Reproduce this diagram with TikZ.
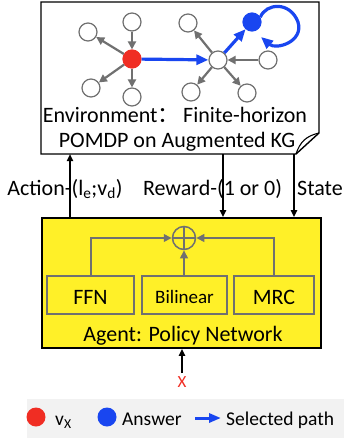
\documentclass[tikz,border=0pt]{standalone}
\usepackage{fontspec}
\setmainfont{Carlito}
\newfontfamily\cjk{Noto Sans CJK SC}
\usetikzlibrary{arrows.meta}
\definecolor{kggray}{RGB}{112,112,112}
\definecolor{kgblue}{RGB}{25,70,240}
\definecolor{kgred}{RGB}{240,45,35}
\definecolor{agyellow}{RGB}{255,240,40}
\definecolor{leggray}{RGB}{242,242,242}
\begin{document}
\begin{tikzpicture}[x=1pt,y=-1pt,
  kgnode/.style={circle,draw=kggray,line width=1.2pt,fill=white,minimum size=18pt,inner sep=0pt},
  kgedge/.style={draw=kggray,line width=2.2pt,-{Triangle[length=8pt,width=8pt]}},
  selpath/.style={draw=kgblue,line width=3.2pt,-{Triangle[length=12pt,width=10pt]}},
  flow/.style={draw=black,line width=1.8pt,-{Triangle[length=7pt,width=6pt]}},
  innerarrow/.style={draw=kggray,line width=2pt,-{Triangle[length=8pt,width=7.5pt]}},
  subbox/.style={draw=kggray,line width=1.5pt,fill=agyellow,minimum height=38pt,inner sep=0pt},
  big/.style={font=\fontsize{22}{25}\selectfont,inner sep=0pt},
  legtext/.style={font=\fontsize{19.5}{22}\selectfont,inner sep=0pt,anchor=base west}
]
\useasboundingbox (0,0) rectangle (344,439);

% environment box with folded corner
\draw[line width=1.4pt,fill=white] (41,2) -- (319,2) -- (319,133) -- (296,154) -- (41,154) -- cycle;
\draw[line width=1.1pt] (319,133) .. controls (306,136) and (300,142) .. (296,154);
\coordinate (envb) at (0,154);

% knowledge graph
\node[kgnode,fill=kgred,draw=kgred] (r) at (132,59) {};
\node[kgnode] (o1) at (88,32) {};
\node[kgnode] (o2) at (132,22) {};
\node[kgnode] (o3) at (91,88) {};
\node[kgnode] (o4) at (132,97) {};
\node[kgnode] (m) at (218,60) {};
\node[kgnode] (p1) at (188,23) {};
\node[kgnode] (p2) at (268,60) {};
\node[kgnode] (p3) at (191,92) {};
\node[kgnode] (p4) at (247,93) {};
\node[kgnode,fill=kgblue,draw=kgblue] (b) at (252,22) {};

\draw[kgedge] (r) -- (o1);
\draw[kgedge] (o2) -- (r);
\draw[kgedge] (r) -- (o3);
\draw[kgedge] (r) -- (o4);
\draw[kgedge] (m) -- (p1);
\draw[kgedge] (p2) -- (m);
\draw[kgedge] (m) -- (p3);
\draw[kgedge] (m) -- (p4);
\draw[selpath] (r) -- (m);
\draw[selpath] (m) -- (b);
\coordinate (loopend) at (261,37);
\draw[selpath] (b.30) .. controls (266,3) and (290,1) .. (298,22) .. controls (304,42) and (276,50) .. (loopend);

\node[big,anchor=base] (envt1) at (175,122) {Environment{\cjk ：}\,Finite-horizon};
\node[big,anchor=base] (envt2) at (177,147) {POMDP on Augmented KG};

% agent box
\node[draw,line width=1.6pt,fill=agyellow,minimum width=279pt,minimum height=130pt,inner sep=0pt] (agent) at (181.5,283) {};
\node[subbox,minimum width=87pt] (ffn) at (90.5,295) {};
\node[subbox,minimum width=85pt] (bil) at (184.5,295) {};
\node[subbox,minimum width=80pt] (mrc) at (274,295) {};
\node[big,anchor=base] (ffnt) at (90.5,304) {FFN};
\node[inner sep=0pt,anchor=base,font=\fontsize{19}{22}\selectfont] (bilt) at (184.5,303) {Bilinear};
\node[big,anchor=base] (mrct) at (274,304) {MRC};
\node[circle,draw=kggray,line width=1.5pt,minimum size=23pt,inner sep=0pt] (plus) at (184,238) {};
\draw[kggray,line width=1.5pt] (plus.north) -- (plus.south) (plus.west) -- (plus.east);
\draw[innerarrow] (ffn.north) |- (plus.west);
\draw[innerarrow] (mrc.north) |- (plus.east);
\draw[innerarrow] (bil.north -| plus) -- (plus.south);
\node[big,anchor=base] (agentt) at (183,341) {Agent: Policy Network};

% interaction arrows
\coordinate (actx) at (70,0);
\coordinate (rewx) at (223,0);
\coordinate (stax) at (294,0);
\draw[flow] (agent.north -| actx) -- (envb -| actx);
\draw[flow] (envb -| rewx) -- (agent.north -| rewx);
\draw[flow] (envb -| stax) -- (agent.north -| stax);
\node[big,anchor=base] (actl) at (65,195) {Action-(l\textsubscript{e};v\textsubscript{d})};
\node[big,anchor=base] (rewl) at (212.5,195) {Reward-(1 or 0)};
\node[big,anchor=base] (stal) at (320,195) {State};

% input X
\node[inner sep=0pt,text=kgred,font=\fontsize{17}{20}\selectfont] (x) at (182,382) {X};
\draw[flow] (182,373) -- (agent.south -| x);

% legend
\fill[leggray] (27,399) rectangle (344,438);
\node[circle,fill=kgred,minimum size=19pt,inner sep=0pt] (lr) at (36,417) {};
\node[legtext] (lrt) at (55,425) {v\textsubscript{X}};
\node[circle,fill=kgblue,minimum size=19pt,inner sep=0pt] (lb) at (107,417) {};
\node[legtext] (lbt) at (122,425) {Answer};
\coordinate (la1) at (195,418);
\coordinate (la2) at (221,418);
\draw[draw=kgblue,line width=3pt,-{Triangle[length=12pt,width=9pt]}] (la1) -- (la2);
\node[legtext] (lat) at (226,425) {Selected path};
\end{tikzpicture}
\end{document}
